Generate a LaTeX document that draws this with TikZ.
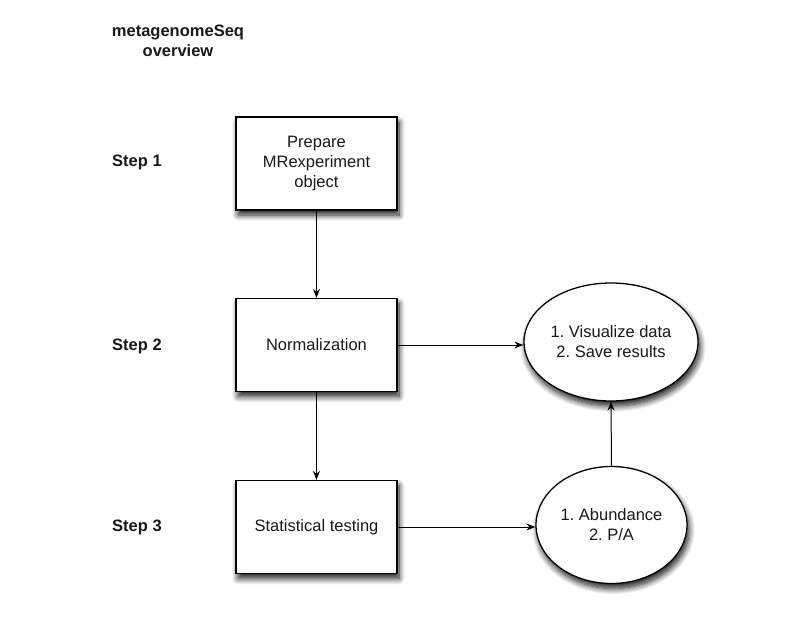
\documentclass[tikz,border=0pt]{standalone}
\usepackage{fontspec}
\setmainfont{Liberation Sans}
\usepackage{tikz}
\usetikzlibrary{shapes.geometric, shadows.blur, arrows.meta}
\frenchspacing

\begin{document}
\begin{tikzpicture}[x=1pt, y=-1pt,
    every node/.style={font=\fontsize{16.5}{20}\selectfont, text=black!90},
    softshadow/.style={blur shadow={shadow xshift=2pt, shadow yshift=-5pt, shadow blur steps=10, shadow blur radius=6pt, shadow opacity=90}},
    stepbox/.style={draw, line width=1.3pt, fill=white, minimum width=161, minimum height=93, align=center, softshadow},
    outbox/.style={ellipse, draw, line width=1.3pt, fill=white, inner sep=0pt, align=center, softshadow},
    steplabel/.style={font=\fontsize{16.5}{20}\selectfont\bfseries},
    flow/.style={line width=1pt, -{Stealth[length=9pt, width=7pt, inset=3pt]}}]
  \useasboundingbox (0,0) rectangle (811,621);
  % title and step labels
  \node[steplabel, align=center] (title) at (178,41) {metagenomeSeq\\overview};
  \node[steplabel] (s1) at (137,162) {Step 1};
  \node[steplabel] (s2) at (137,346) {Step 2};
  \node[steplabel] (s3) at (137,527) {Step 3};
  % main steps
  \node[stepbox] (prep) at (316.5,163.5) {Prepare\\MRexperiment\\object};
  \node[stepbox] (norm) at (316.5,345) {Normalization};
  \node[stepbox] (stat) at (316.5,527) {Statistical testing};
  % outputs
  \node[outbox, minimum width=174, minimum height=118] (vis) at (611,342) {1. Visualize data\\2. Save results};
  \node[outbox, minimum width=151, minimum height=117] (abund) at (611.5,525) {1. Abundance\\2. P/A};
  % arrows
  \draw[flow] (prep) -- (norm);
  \draw[flow] (norm) -- (stat);
  \draw[flow] (norm.east) -- (norm.east -| vis.west);
  \draw[flow] (stat.east) -- (stat.east -| abund.west);
  \draw[flow] (abund.north) -- (vis.south);
\end{tikzpicture}
\end{document}
